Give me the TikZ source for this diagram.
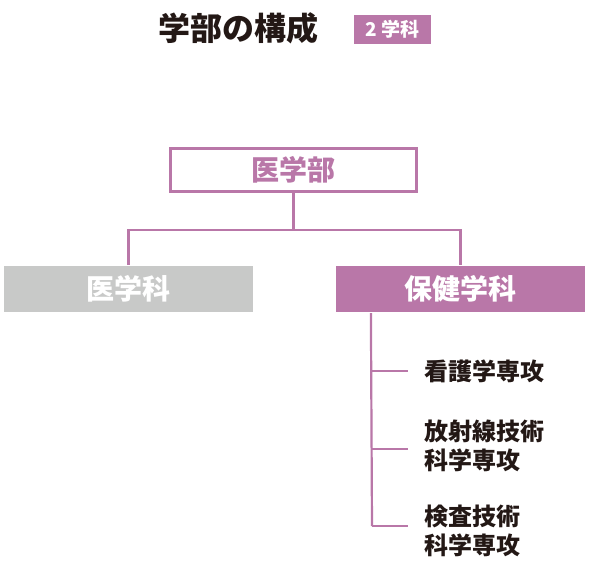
\documentclass[tikz,border=0pt]{standalone}
\usepackage{fontspec}
\newfontfamily\cjk{Noto Sans CJK JP}
\usetikzlibrary{positioning}
\definecolor{murasaki}{HTML}{B977A8}
\definecolor{haiiro}{HTML}{C8C9C8}
\definecolor{sumi}{HTML}{231815}

\begin{document}
\begin{tikzpicture}[x=1pt,y=-1pt,line width=2.2pt,
  box/.style={minimum width=249pt,minimum height=46pt,inner sep=0pt,text=white,
    font=\cjk\bfseries\fontsize{28}{28}\selectfont},
  senko/.style={anchor=west,align=left,inner sep=0pt,text=sumi,
    font=\cjk\bfseries\fontsize{24}{29}\selectfont}]
  \useasboundingbox (0,0) rectangle (589,562);
  % midashi
  \node[text=sumi,font=\cjk\bfseries\fontsize{32}{32}\selectfont] (title) at (238,28) {学部の構成};
  \node[fill=murasaki,text=white,minimum width=77pt,minimum height=29pt,inner sep=0pt,
    font=\cjk\bfseries\fontsize{19}{19}\selectfont] (badge) at (392.5,29.5) {2 学科};
  % gakubu
  \node[box,draw=murasaki,text=murasaki,minimum width=246pt,minimum height=43pt] (gakubu) at (293.5,170) {医学部};
  \node[box,fill=haiiro] (igaku) at (128.5,289) {医学科};
  \node[box,fill=murasaki] (hoken) at (460.5,289) {保健学科};
  \coordinate (bunki) at (293.5,230);
  \draw[murasaki] (gakubu) -- (bunki) -| (igaku.north);
  \draw[murasaki] (bunki) -| (hoken.north);
  % senko
  \node[senko] (kango) at (423,371) {看護学専攻};
  \node[senko] (hoshasen) at (423,445.5) {放射線技術\\科学専攻};
  \node[senko] (kensa) at (423,530.5) {検査技術\\科学専攻};
  \coordinate (kanbu) at ([xshift=36pt]hoken.south west);
  \foreach \n/\y in {1/371,2/449,3/526} {
    \coordinate (j\n) at (372,\y);
    \coordinate (e\n) at (408,\y);
    \draw[murasaki] (j\n) -- (e\n);
  }
  \draw[murasaki] (kanbu) -- (j3);
\end{tikzpicture}
\end{document}
